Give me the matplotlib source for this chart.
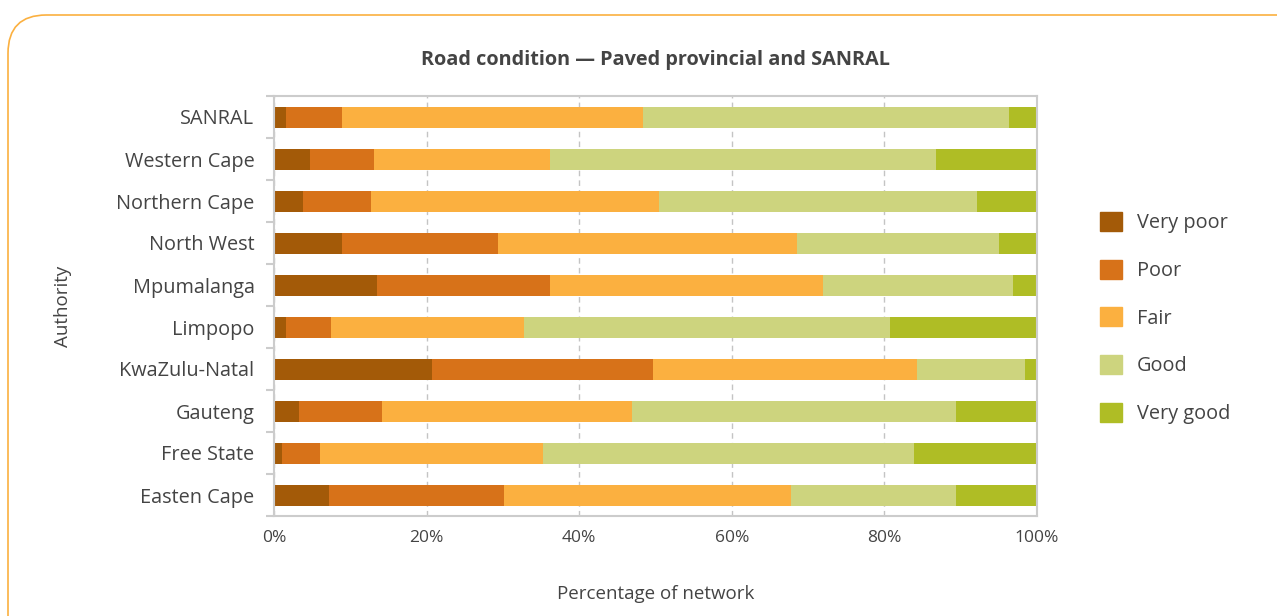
import numpy as np
import matplotlib
matplotlib.use('Agg')
import matplotlib.pyplot as plt
from matplotlib.patches import FancyBboxPatch, Patch

plt.rcParams['font.family'] = ['Open Sans', 'DejaVu Sans']

# data (bottom -> top as drawn)
authorities = ['Easten Cape', 'Free State', 'Gauteng', 'KwaZulu-Natal', 'Limpopo',
               'Mpumalanga', 'North West', 'Northern Cape', 'Western Cape', 'SANRAL']
very_poor = [7.2, 1.0, 3.3, 20.7, 1.6, 13.5, 8.9, 3.8, 4.7, 1.6]
poor      = [22.9, 5.0, 10.9, 29.0, 5.9, 22.7, 20.4, 8.9, 8.4, 7.3]
fair      = [37.7, 29.2, 32.7, 34.6, 25.3, 35.8, 39.3, 37.7, 23.1, 39.4]
good      = [21.6, 48.7, 42.5, 14.1, 47.9, 24.9, 26.4, 41.7, 50.5, 48.0]
very_good = [10.6, 16.1, 10.6, 1.6, 19.3, 3.1, 5.0, 7.9, 13.3, 3.7]

conditions = ['Very poor', 'Poor', 'Fair', 'Good', 'Very good']
colors = ['#A35A08', '#D77219', '#FBB040', '#CDD47E', '#AFBD25']
series = [very_poor, poor, fair, good, very_good]

txt = '#444444'
fig = plt.figure(figsize=(12.77, 6.16), dpi=100)
fig.patch.set_facecolor('white')

# rounded orange frame
frame = FancyBboxPatch((8/1277, -0.2), 1.2, 1.2 - 15/616,
                       boxstyle='round,pad=0,rounding_size=0.03',
                       transform=fig.transFigure, fc='none', ec='#FBB040', lw=1.2,
                       mutation_aspect=1277/616)
fig.patches.append(frame)

ax = fig.add_axes([274/1277, 1 - 516/616, (1037-274)/1277, (516-96)/616])

y = np.arange(len(authorities))
left = np.zeros(len(authorities))
for vals, c, name in zip(series, colors, conditions):
    ax.barh(y, vals, left=left, height=0.5, color=c, label=name, zorder=2)
    left += np.array(vals)

ax.set_xlim(0, 100)
ax.set_ylim(-0.5, len(authorities) - 0.5)
ax.set_xticks(np.arange(0, 101, 20))
ax.set_xticklabels([f'{v}%' for v in range(0, 101, 20)])
ax.set_yticks(y)
ax.set_yticklabels(authorities)
ax.set_yticks(np.arange(-0.5, len(authorities), 1), minor=True)

ax.xaxis.grid(True, ls=(0, (4, 3)), color='#C4C4C4', lw=1, zorder=1)
for s in ax.spines.values():
    s.set_color('#CCCCCC')
    s.set_linewidth(1.5)
ax.tick_params(axis='y', which='major', length=0, pad=14, labelsize=14.3, labelcolor=txt)
ax.tick_params(axis='y', which='minor', length=6, color='#CCCCCC', width=1.5)
ax.tick_params(axis='x', length=0, pad=10, labelsize=12.5, labelcolor=txt)

ax.set_xlabel('Percentage of network', fontsize=13.5, color=txt, labelpad=28)
ax.set_ylabel('Authority', fontsize=13.5, color=txt, labelpad=32)
ax.set_title('Road condition \u2014 Paved provincial and SANRAL', fontsize=14.3,
             fontweight='bold', color=txt, pad=22)

handles = [Patch(color=c, label=n) for n, c in zip(conditions, colors)]
fig.legend(handles=handles, loc='center left', bbox_to_anchor=(1082/1277, 1 - 318/616),
           frameon=False, fontsize=14.3, labelcolor=txt, handlelength=1.1,
           handleheight=1.1, labelspacing=1.33, handletextpad=0.75)

fig.savefig('out.png', dpi=100)
